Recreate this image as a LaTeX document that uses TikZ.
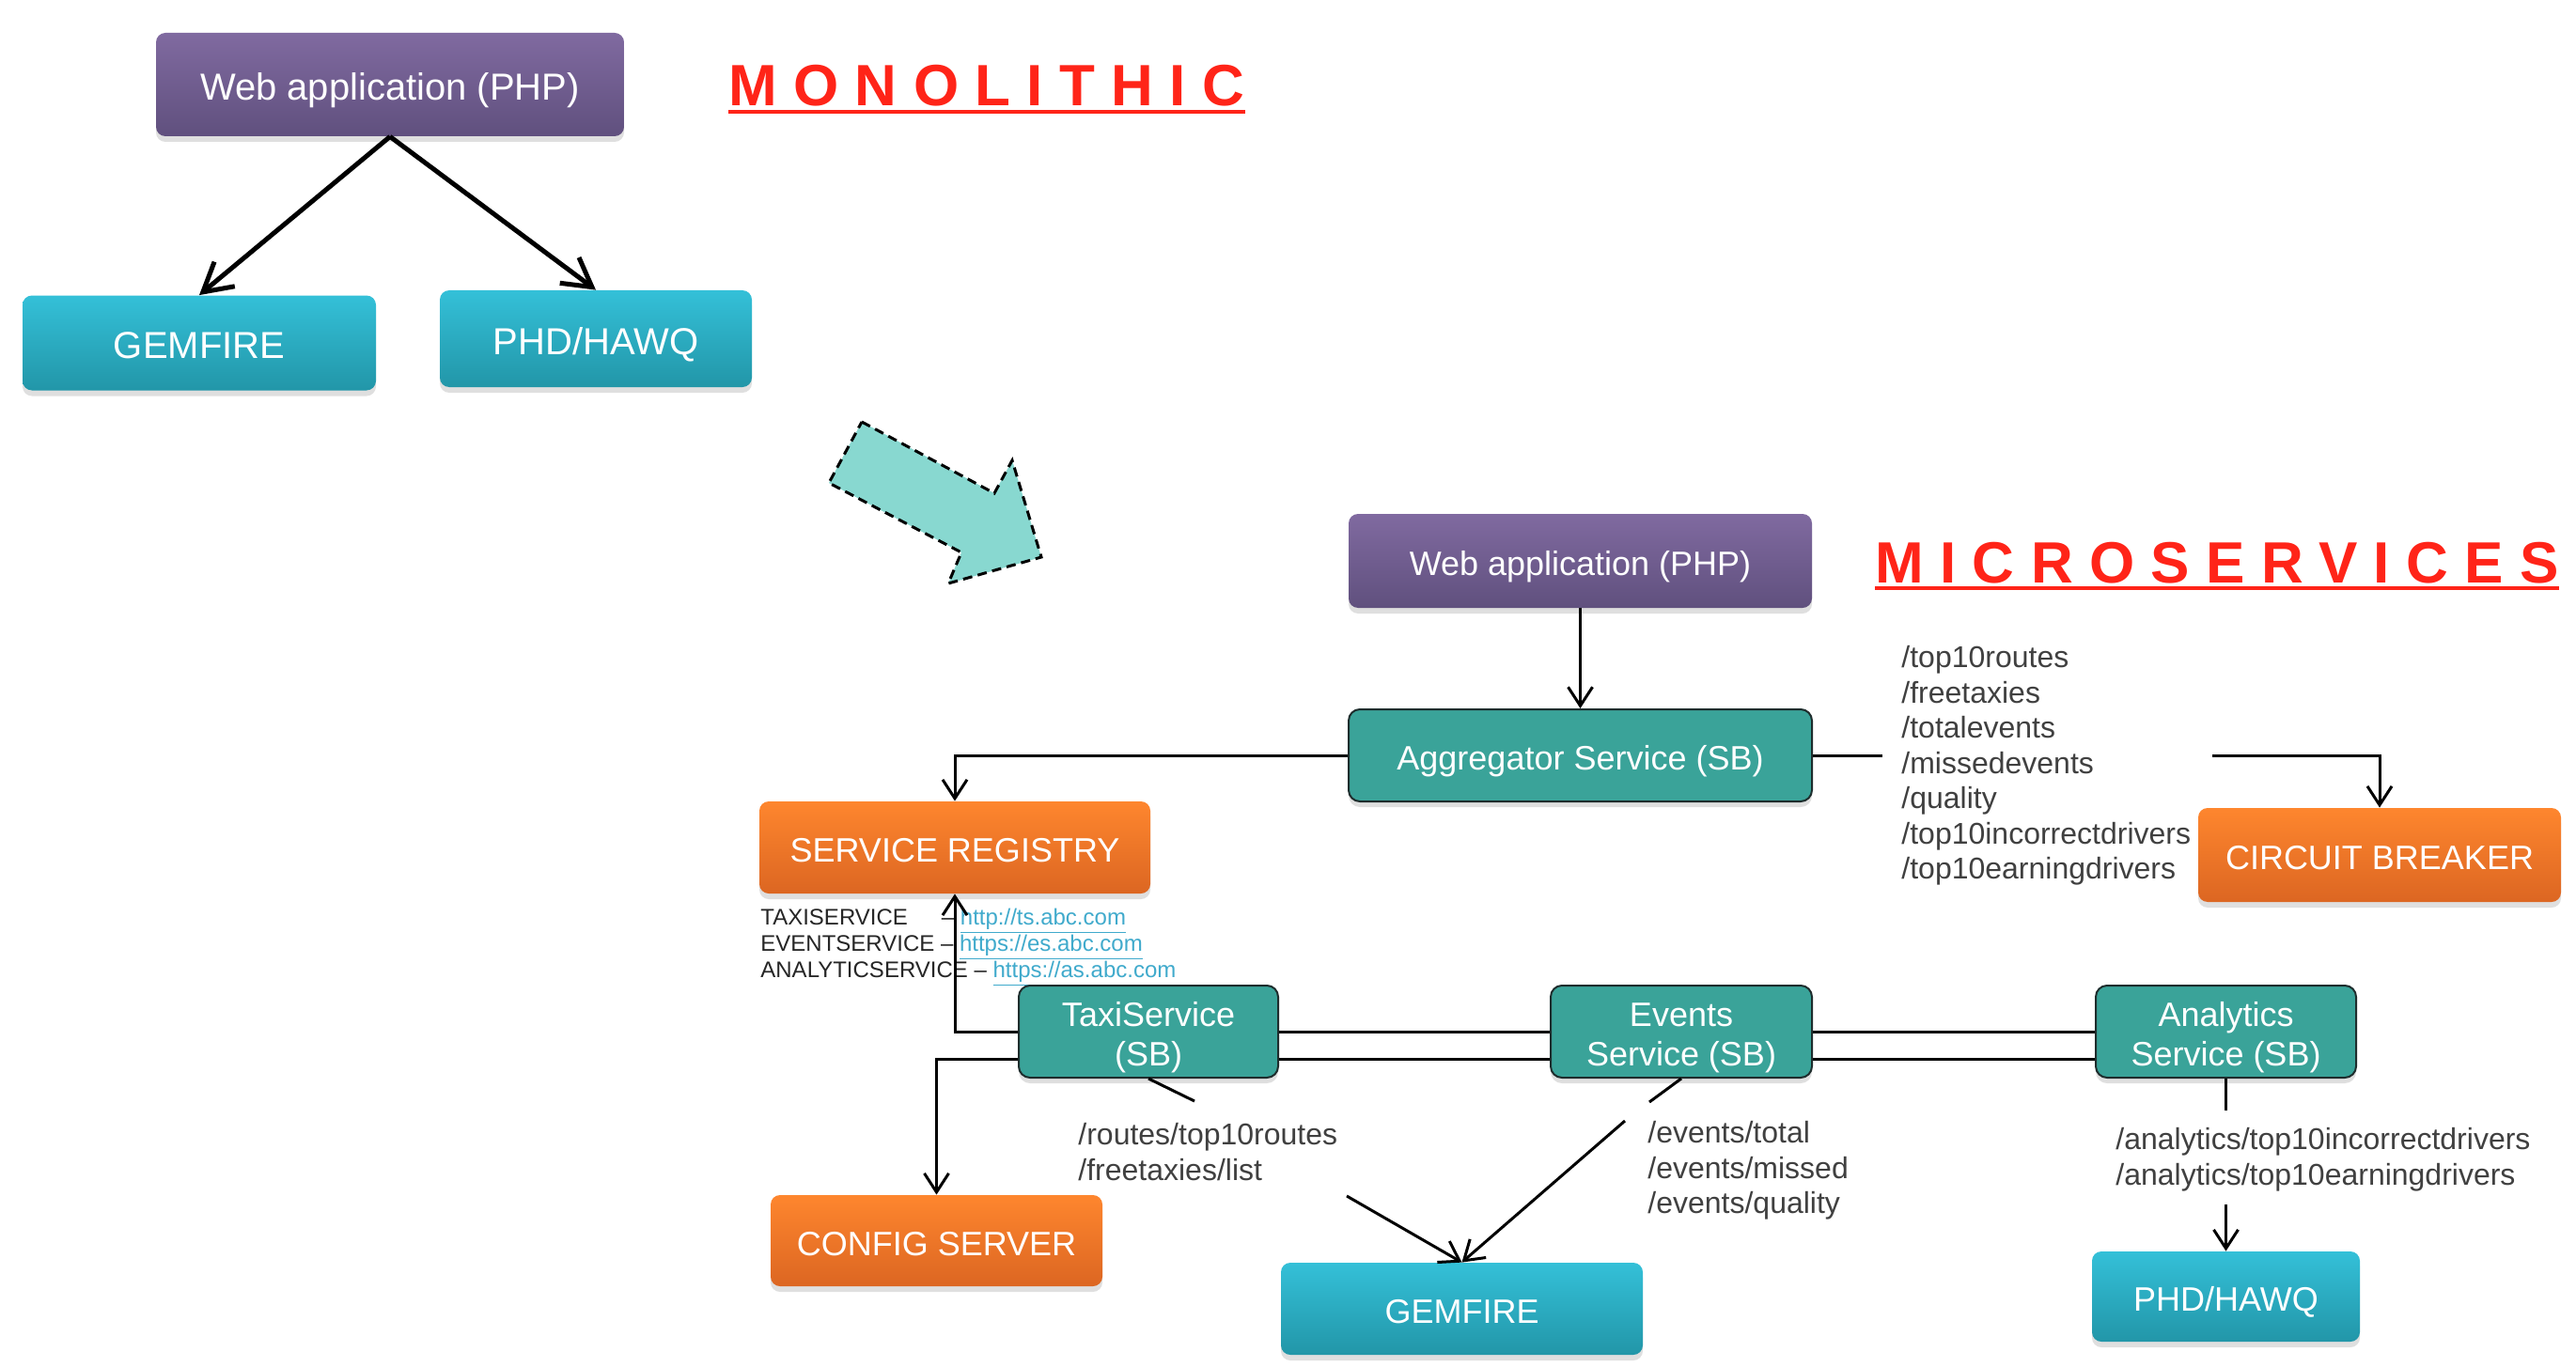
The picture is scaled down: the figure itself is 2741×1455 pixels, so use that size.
\documentclass[tikz,border=0pt]{standalone}
\usepackage{fontspec}
\setmainfont{Liberation Sans}
\usetikzlibrary{arrows.meta,shadows}

\begin{document}
\begin{tikzpicture}[x=0.5pt,y=-0.5pt,
    box/.style={rounded corners=5pt, text=white, inner sep=0pt,
      font=\fontsize{18}{22}\selectfont, text height=15.5pt, text depth=0pt,
      drop shadow={opacity=0.25, shadow xshift=0pt, shadow yshift=-3pt}},
    webbox/.style={box, top color=webtop, bottom color=webbottom},
    storebox/.style={box, top color=storetop, bottom color=storebottom},
    infrabox/.style={box, top color=infratop, bottom color=infrabottom},
    servicebox/.style={box, fill=servicefill, draw=serviceline, line width=1pt,
      rounded corners=6pt, align=center, font=\fontsize{18}{21}\selectfont,
      text height=36pt, text depth=0pt},
    bigtext/.style={font=\fontsize{20}{24}\selectfont, text height=16.9pt},
    headline/.style={text=headred, inner sep=0pt, anchor=base west,
      font=\fontsize{31}{31}\selectfont\bfseries\addfontfeature{LetterSpace=28}},
    pathlist/.style={text=pathgray, align=left, anchor=west, inner sep=0pt,
      font=\fontsize{16}{18.75}\selectfont},
    monoarrow/.style={line width=2.5pt, -{Straight Barb[length=15pt,width=17pt,line width=2.5pt]}},
    flow/.style={line width=1.5pt, -{Straight Barb[length=10pt,width=13pt,line width=1.5pt]}},
    bus/.style={line width=1.5pt}
  ]
  % Colours
  \definecolor{webtop}{RGB}{128,106,160}
  \definecolor{webbottom}{RGB}{96,80,126}
  \definecolor{storetop}{RGB}{52,192,216}
  \definecolor{storebottom}{RGB}{34,150,168}
  \definecolor{infratop}{RGB}{254,134,46}
  \definecolor{infrabottom}{RGB}{220,102,34}
  \definecolor{servicefill}{RGB}{58,163,153}
  \definecolor{serviceline}{RGB}{30,45,45}
  \definecolor{headred}{RGB}{255,36,24}
  \definecolor{arrowfill}{RGB}{136,216,208}
  \definecolor{pathgray}{RGB}{64,64,64}
  \definecolor{linkblue}{RGB}{64,170,204}
  \def\weblink#1{\textcolor{linkblue}{\underline{#1}}}

  \fill[white] (0,0) rectangle (2741,1455);
  \useasboundingbox (0,0) rectangle (2741,1455);

  % Monolithic: one web application on two stores
  \node[webbox, bigtext, minimum width=249pt, minimum height=55pt] (monoweb) at (415,90) {Web application (PHP)};
  \node[storebox, bigtext, minimum width=188pt, minimum height=50.5pt] (monogem) at (212,365) {GEMFIRE};
  \node[storebox, bigtext, minimum width=166pt, minimum height=51.5pt] (monophd) at (634,360.5) {PHD/HAWQ};
  \draw[monoarrow] (monoweb.south) -- (monogem.north);
  \draw[monoarrow] (monoweb.south) -- (monophd.north);

  \node[headline] (monotitle) at (775,113) {MONOLITHIC};
  \draw[headred, line width=2pt] ([yshift=-3pt]monotitle.base west) -- ([yshift=-3pt]monotitle.base east);

  % Transition arrow
  \filldraw[fill=arrowfill, draw=black, line width=1.5pt, dash pattern=on 5pt off 3pt]
    (917,449) -- (1058,525) -- (1077,490) -- (1108,593) -- (1009,621) -- (1023,588) -- (882,514) -- cycle;

  % Microservices: front
  \node[webbox, minimum width=246.5pt, minimum height=50pt] (web) at (1681.5,597) {Web application (PHP)};
  \node[headline] (microtitle) at (1995,620) {MICROSERVICES};
  \draw[headred, line width=2pt] ([yshift=-3pt]microtitle.base west) -- ([yshift=-3pt]microtitle.base east);

  \node[servicebox, text height=15.5pt, text depth=0pt, minimum width=246.5pt, minimum height=49pt] (aggregator) at (1681.5,804) {Aggregator Service (SB)};
  \node[infrabox, minimum width=208pt, minimum height=49pt] (registry) at (1016,902) {SERVICE REGISTRY};
  \node[infrabox, minimum width=193pt, minimum height=50pt] (breaker) at (2532,910) {CIRCUIT BREAKER};

  \draw[flow] (web.south) -- (aggregator.north);
  \draw[flow] (aggregator.west) -| (registry.north);
  \coordinate (aggcut) at (2003,804);
  \coordinate (breakerturn) at (2354,804);
  \draw[bus] (aggregator.east) -- (aggcut);
  \draw[flow] (breakerturn) -| (breaker.north);

  \node[pathlist] (aggpaths) at (2023,815) {/top10routes\\/freetaxies\\/totalevents\\/missedevents\\/quality\\/top10incorrectdrivers\\/top10earningdrivers};

  % Registry entries
  \node[anchor=west, inner sep=0pt, align=left, text=black!85, font=\fontsize{12}{14}\selectfont] (regurls) at (809,1008)
    {TAXISERVICE\hspace{18pt}-- \weblink{http://ts.abc.com}\\
     EVENTSERVICE -- \weblink{https://es.abc.com}\\
     ANALYTICSERVICE -- \weblink{https://as.abc.com}};

  % Services
  \node[servicebox, minimum width=138pt, minimum height=49pt] (taxi) at (1222,1098) {TaxiService\\(SB)};
  \node[servicebox, minimum width=139pt, minimum height=49pt] (events) at (1789,1098) {Events\\Service (SB)};
  \node[servicebox, minimum width=138.5pt, minimum height=49pt] (analytics) at (2368.5,1098) {Analytics\\Service (SB)};

  \draw[flow] (taxi.west) -| (registry.south);
  \node[infrabox, minimum width=176.5pt, minimum height=48.5pt] (config) at (996.5,1320.5) {CONFIG SERVER};
  \draw[flow] ([yshift=-14.5pt]taxi.west) -| (config.north);
  \draw[bus] (taxi.east) -- (events.west);
  \draw[bus] ([yshift=-14.5pt]taxi.east) -- ([yshift=-14.5pt]events.west);
  \draw[bus] (events.east) -- (analytics.west);
  \draw[bus] ([yshift=-14.5pt]events.east) -- ([yshift=-14.5pt]analytics.west);

  % Stores
  \node[storebox, minimum width=192.5pt, minimum height=49pt] (gemfire) at (1555.5,1393) {GEMFIRE};
  \node[storebox, minimum width=142.5pt, minimum height=48pt] (phd) at (2368.5,1380) {PHD/HAWQ};

  \coordinate (taxicut) at (1271,1172);
  \coordinate (taxiresume) at (1433,1273);
  \draw[bus] (taxi.south) -- (taxicut);
  \draw[flow] (taxiresume) -- (gemfire.north);
  \node[pathlist] (taxipaths) at (1147,1226) {/routes/top10routes\\/freetaxies/list};

  \coordinate (eventscut) at (1755,1173);
  \coordinate (eventsresume) at (1729,1193);
  \draw[bus] (events.south) -- (eventscut);
  \draw[flow] (eventsresume) -- (gemfire.north);
  \node[pathlist] (eventpaths) at (1753,1246) {/events/total\\/events/missed\\/events/quality};

  \coordinate (analyticscut) at (2368.5,1182);
  \coordinate (analyticsresume) at (2368.5,1282);
  \draw[bus] (analytics.south) -- (analyticscut);
  \draw[flow] (analyticsresume) -- (phd.north);
  \node[pathlist] (analyticspaths) at (2251,1234) {/analytics/top10incorrectdrivers\\/analytics/top10earningdrivers};
\end{tikzpicture}
\end{document}
